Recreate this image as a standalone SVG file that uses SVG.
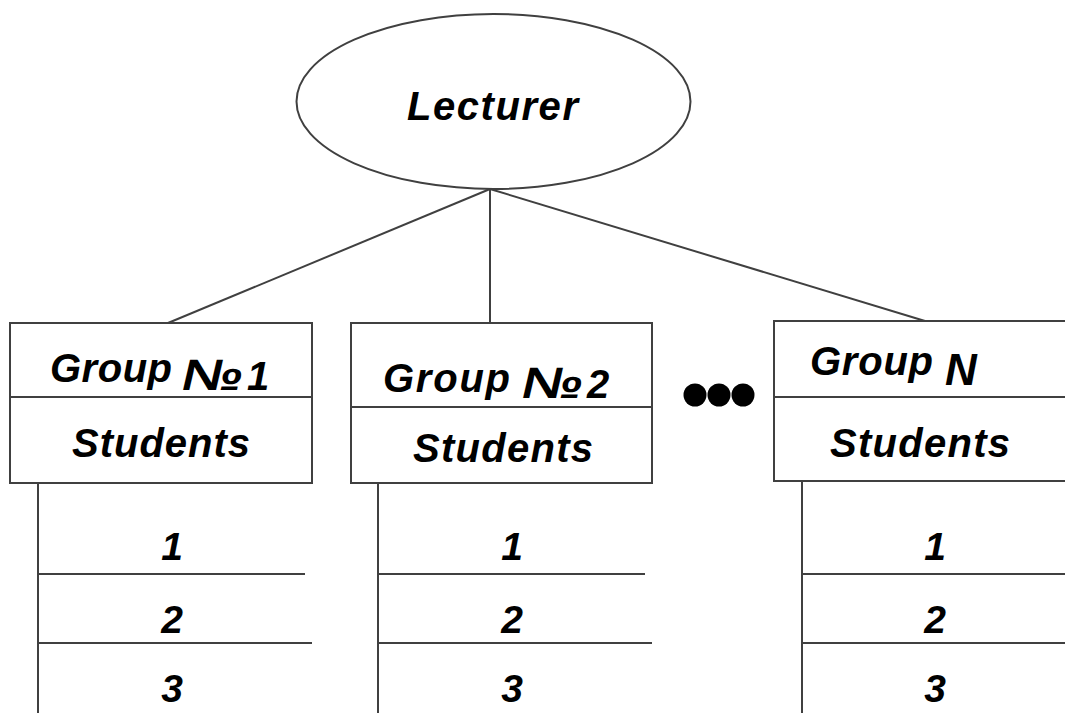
<svg xmlns="http://www.w3.org/2000/svg" width="1065" height="713" viewBox="0 0 1065 713">
<style>
.s{fill:none;stroke:#404040;stroke-width:2}
.b{fill:#fff;stroke:#404040;stroke-width:2}
.t{font-family:"Liberation Sans",Arial,sans-serif;font-weight:bold;font-style:italic;fill:#000}
.l{font-size:40px}
.n{font-size:39px;text-anchor:middle}
.no{font-size:44px}
</style>
<rect width="1065" height="713" fill="#fff"/>
<g id="connectors">
<line class="s" x1="490" y1="189" x2="168" y2="323"/>
<line class="s" x1="490" y1="189" x2="490" y2="323"/>
<line class="s" x1="490" y1="189" x2="925" y2="321"/>
</g>
<g id="lecturer">
<ellipse class="b" cx="493.5" cy="101.5" rx="197" ry="87.5"/>
<text class="t l" x="407" y="120" textLength="171">Lecturer</text>
</g>
<g id="group1">
<rect class="b" x="10" y="323" width="302" height="160"/>
<line class="s" x1="10" y1="397" x2="312" y2="397"/>
<text class="t l" x="50" y="382" textLength="122">Group</text>
<text class="t no" x="182" y="390" textLength="60" lengthAdjust="spacingAndGlyphs">№</text>
<text class="t l" x="247" y="390">1</text>
<text class="t l" x="72" y="457" textLength="178">Students</text>
</g>
<g id="list1">
<line class="s" x1="38" y1="483" x2="38" y2="713"/>
<line class="s" x1="38" y1="574" x2="305" y2="574"/>
<line class="s" x1="38" y1="643" x2="312" y2="643"/>
<text class="t n" x="172" y="560">1</text>
<text class="t n" x="172" y="633">2</text>
<text class="t n" x="172" y="702">3</text>
</g>
<g id="group2">
<rect class="b" x="351" y="323" width="301" height="160"/>
<line class="s" x1="351" y1="407" x2="652" y2="407"/>
<text class="t l" x="383" y="392" textLength="127">Group</text>
<text class="t no" x="522" y="398" textLength="60" lengthAdjust="spacingAndGlyphs">№</text>
<text class="t l" x="587" y="398">2</text>
<text class="t l" x="413" y="462" textLength="180">Students</text>
</g>
<g id="list2">
<line class="s" x1="378" y1="483" x2="378" y2="713"/>
<line class="s" x1="378" y1="574" x2="645" y2="574"/>
<line class="s" x1="378" y1="643" x2="652" y2="643"/>
<text class="t n" x="512" y="560">1</text>
<text class="t n" x="512" y="633">2</text>
<text class="t n" x="512" y="702">3</text>
</g>
<g id="ellipsis">
<circle cx="695" cy="395" r="11.5" fill="#000"/>
<circle cx="719" cy="395" r="11.5" fill="#000"/>
<circle cx="743" cy="395" r="11.5" fill="#000"/>
</g>
<g id="groupN">
<rect class="b" x="774" y="321" width="300" height="160"/>
<line class="s" x1="774" y1="397" x2="1065" y2="397"/>
<text class="t l" x="810" y="375" textLength="123">Group</text>
<text class="t no" x="945" y="385">N</text>
<text class="t l" x="830" y="457" textLength="180">Students</text>
</g>
<g id="listN">
<line class="s" x1="802" y1="481" x2="802" y2="713"/>
<line class="s" x1="802" y1="574" x2="1065" y2="574"/>
<line class="s" x1="802" y1="643" x2="1065" y2="643"/>
<text class="t n" x="935" y="560">1</text>
<text class="t n" x="935" y="633">2</text>
<text class="t n" x="935" y="702">3</text>
</g>
</svg>
